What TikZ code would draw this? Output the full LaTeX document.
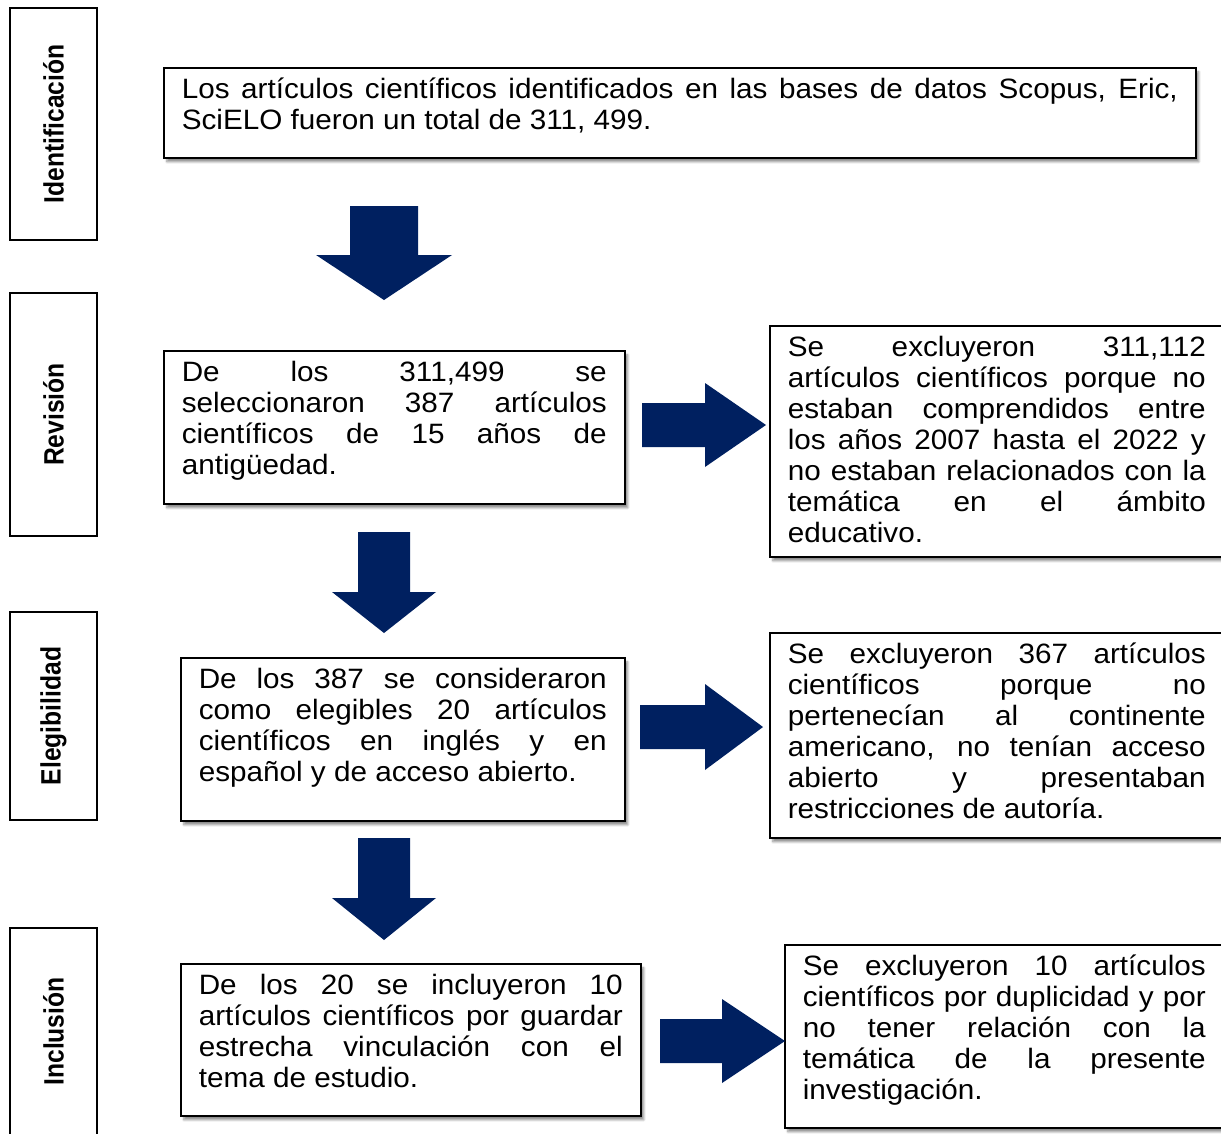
\documentclass[tikz,border=0pt]{standalone}
\usepackage{fontspec}
\setmainfont{Liberation Sans}[FakeStretch=1.06]
\newfontfamily\sidefont{Liberation Sans}[FakeStretch=0.88]
\usepackage{tikz}
\usetikzlibrary{shadows.blur}
\definecolor{navy}{RGB}{0,32,96}
\newcommand\jl[1]{\makebox[\linewidth][s]{#1}}
\newcommand\downblock[6]{\fill[navy] ({#1-#5},#2) -- ({#1+#5},#2) -- ({#1+#5},#3) -- ({#1+#6},#3) -- (#1,#4) -- ({#1-#6},#3) -- ({#1-#5},#3) -- cycle;}
\newcommand\rightblock[6]{\fill[navy] (#1,{#4-#5}) -- (#2,{#4-#5}) -- (#2,{#4-#6}) -- (#3,#4) -- (#2,{#4+#6}) -- (#2,{#4+#5}) -- (#1,{#4+#5}) -- cycle;}

\begin{document}
\begin{tikzpicture}[x=1pt, y=-1pt,
  flowbox/.style={draw, line width=1.6pt, fill=white, anchor=north west, inner xsep=18pt, inner ysep=10pt,
    font=\fontsize{28}{31}\selectfont,
    blur shadow={shadow xshift=3pt, shadow yshift=-4pt, shadow blur steps=8, shadow opacity=45}},
  sidebox/.style={draw, line width=1.6pt, rotate=90, inner sep=0pt, minimum height=87pt,
    font=\sidefont\bfseries\fontsize{28}{30}\selectfont}]
\useasboundingbox (0,0) rectangle (1221,1133);

\node[sidebox, minimum width=232pt] (ident) at (53.5,124) {Identificación};
\node[sidebox, minimum width=243pt] (revis) at (53.5,414.5) {Revisión};
\node[sidebox, minimum width=208pt] (elegib) at (53.5,716) {Elegibilidad};
\node[sidebox, minimum width=207pt] (inclu) at (53.5,1031.5) {Inclusión};

\node[flowbox] (total) at (163,67) {\parbox[c][70pt][t]{996pt}{%
\jl{Los artículos científicos identificados en las bases de datos Scopus, Eric,}\\
SciELO fueron un total de 311, 499.}};

\node[flowbox] (selec) at (163,350) {\parbox[c][133pt][t]{425pt}{%
\jl{De los 311,499 se}\\
\jl{seleccionaron 387 artículos}\\
\jl{científicos de 15 años de}\\
antigüedad.}};

\node[flowbox] (elegi) at (180,657) {\parbox[c][143pt][t]{408pt}{%
\jl{De los 387 se consideraron}\\
\jl{como elegibles 20 artículos}\\
\jl{científicos en inglés y en}\\
español y de acceso abierto.}};

\node[flowbox] (incl) at (180,963) {\parbox[c][132pt][t]{424pt}{%
\jl{De los 20 se incluyeron 10}\\
\jl{artículos científicos por guardar}\\
\jl{estrecha vinculación con el}\\
tema de estudio.}};

\node[flowbox] (exclA) at (769,325) {\parbox[c][211pt][t]{418pt}{%
\jl{Se excluyeron 311,112}\\
\jl{artículos científicos porque no}\\
\jl{estaban comprendidos entre}\\
\jl{los años 2007 hasta el 2022 y}\\
\jl{no estaban relacionados con la}\\
\jl{temática en el ámbito}\\
educativo.}};

\node[flowbox] (exclB) at (769,632) {\parbox[c][185pt][t]{418pt}{%
\jl{Se excluyeron 367 artículos}\\
\jl{científicos porque no}\\
\jl{pertenecían al continente}\\
\jl{americano, no tenían acceso}\\
\jl{abierto y presentaban}\\
restricciones de autoría.}};

\node[flowbox] (exclC) at (784,944) {\parbox[c][163pt][t]{403pt}{%
\jl{Se excluyeron 10 artículos}\\
\jl{científicos por duplicidad y por}\\
\jl{no tener relación con la}\\
\jl{temática de la presente}\\
investigación.}};

% block arrows
\downblock{384}{206}{255}{300}{34}{68}
\downblock{384}{532}{592}{633}{26}{52}
\downblock{384}{838}{898}{940}{26}{52}
\rightblock{642}{705}{766}{425}{22}{42}
\rightblock{640}{705}{763}{727}{22}{43}
\rightblock{660}{722}{785}{1041}{22}{42}

\end{tikzpicture}
\end{document}
